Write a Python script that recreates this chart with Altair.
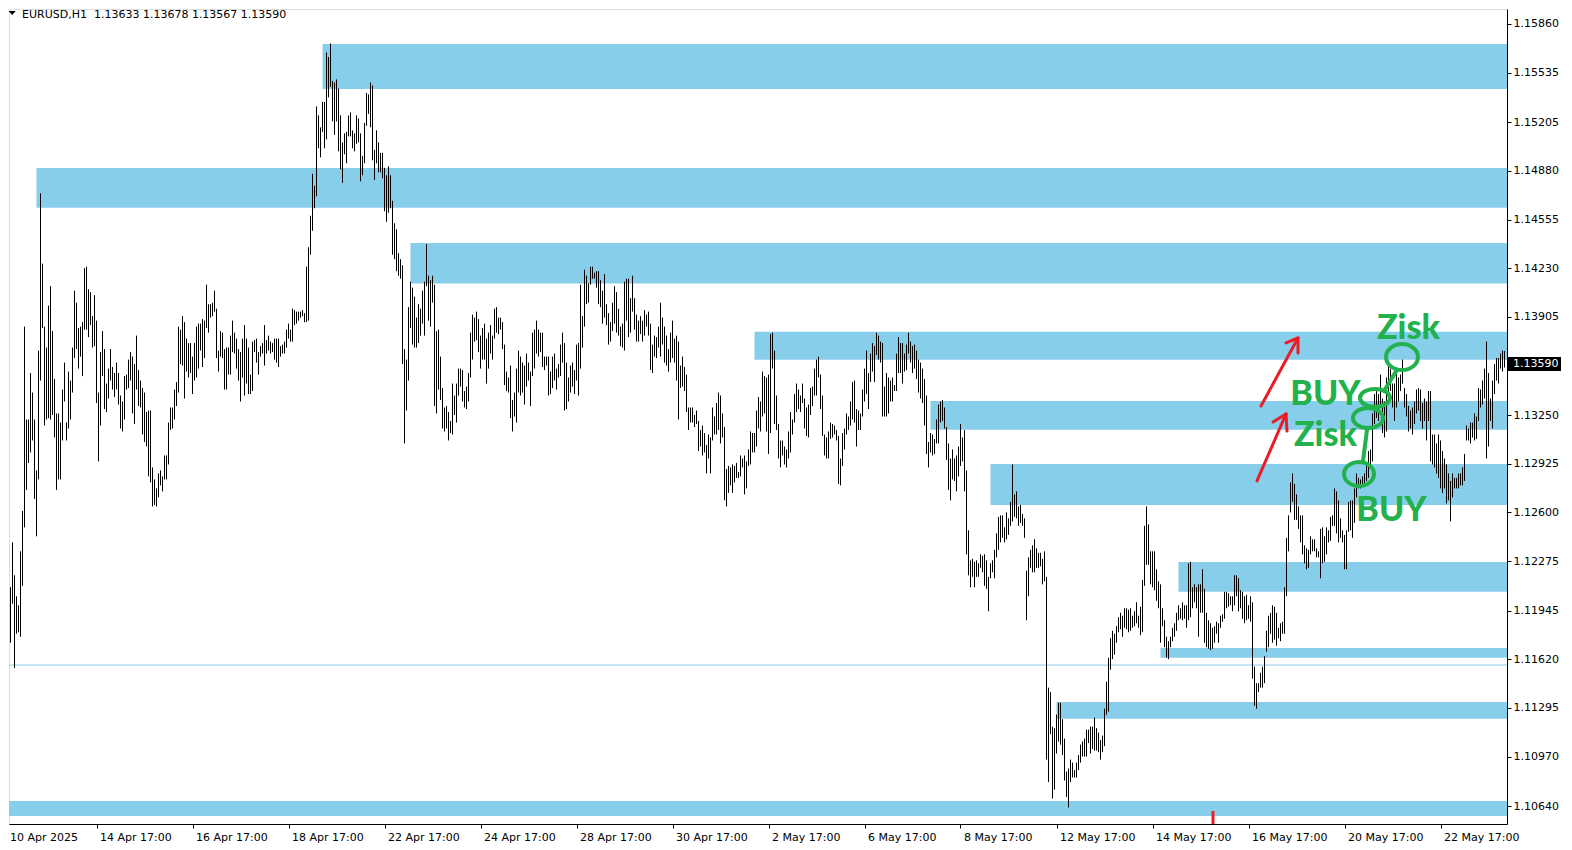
import altair as alt
import pandas as pd

# ---------------- data ----------------
# H1 bar highs / lows, quoted in pips above 1.10000 (e.g. 359 -> 1.1359)
HIGH_PIPS = [
    185, 228, 209, 210, 240, 218, 204, 198, 234, 261,
    384, 322, 322, 353, 340, 322, 288, 368, 473, 426,
    384, 370, 398, 411, 381, 349, 326, 326, 320, 342,
    360, 320, 354, 348, 370, 408, 400, 383, 384, 387,
    423, 424, 409, 407, 391, 405, 388, 340, 367, 381,
    369, 346, 356, 369, 357, 353, 360, 353, 338, 334,
    351, 352, 362, 367, 364, 359, 378, 355, 348, 343,
    340, 327, 328, 328, 290, 282, 276, 286, 288, 284,
    298, 298, 320, 330, 330, 342, 347, 384, 382, 391,
    387, 376, 373, 373, 364, 373, 384, 386, 386, 389,
    388, 412, 399, 399, 400, 408, 396, 368, 381, 380,
    369, 370, 370, 378, 388, 380, 376, 369, 367, 376,
    385, 376, 370, 352, 374, 375, 376, 367, 371, 373,
    385, 375, 378, 374, 373, 376, 376, 376, 371, 372,
    374, 382, 386, 382, 396, 395, 394, 394, 394, 395,
    393, 424, 437, 458, 486, 478, 531, 525, 517, 534,
    534, 567, 564, 573, 548, 547, 549, 543, 525, 507,
    513, 514, 525, 527, 515, 513, 525, 523, 513, 498,
    520, 540, 539, 547, 545, 502, 515, 507, 500, 500,
    490, 485, 491, 485, 468, 453, 449, 433, 429, 425,
    369, 362, 397, 414, 410, 404, 390, 399, 396, 408,
    414, 439, 418, 415, 418, 412, 381, 382, 364, 343,
    330, 331, 327, 321, 346, 338, 346, 356, 356, 355,
    341, 344, 353, 380, 392, 390, 394, 389, 378, 383,
    386, 376, 380, 385, 378, 396, 397, 390, 390, 387,
    372, 354, 350, 358, 335, 340, 356, 368, 364, 360,
    358, 366, 360, 354, 380, 382, 388, 382, 380, 380,
    364, 364, 364, 354, 364, 366, 356, 359, 372, 380,
    373, 360, 350, 358, 360, 355, 372, 373, 412, 391,
    422, 418, 413, 424, 424, 420, 421, 421, 415, 408,
    419, 399, 393, 387, 400, 411, 407, 396, 384, 386,
    414, 416, 416, 403, 418, 403, 392, 388, 391, 388,
    395, 392, 394, 386, 372, 378, 377, 384, 400, 390,
    384, 378, 369, 380, 388, 376, 378, 374, 358, 364,
    357, 352, 330, 330, 330, 325, 328, 321, 315, 318,
    313, 305, 312, 310, 330, 324, 333, 340, 338, 326,
    317, 289, 291, 290, 292, 291, 293, 287, 298, 296,
    298, 294, 302, 314, 313, 313, 328, 337, 334, 354,
    351, 350, 352, 379, 380, 368, 338, 319, 308, 308,
    304, 302, 314, 327, 322, 339, 346, 342, 338, 346,
    336, 330, 332, 343, 344, 356, 362, 364, 352, 338,
    312, 310, 314, 320, 319, 318, 315, 311, 296, 313,
    316, 326, 324, 334, 347, 348, 329, 328, 326, 342,
    356, 368, 353, 366, 373, 371, 380, 378, 374, 373,
    344, 353, 350, 348, 350, 345, 366, 377, 373, 373,
    366, 372, 380, 374, 371, 372, 368, 362, 360, 356,
    349, 338, 307, 313, 312, 309, 322, 332, 334, 335,
    330, 317, 306, 296, 302, 296, 298, 304, 319, 310,
    315, 288, 248, 228, 229, 227, 228, 226, 232, 231,
    232, 228, 217, 226, 228, 235, 246, 257, 258, 258,
    250, 260, 256, 267, 292, 272, 274, 264, 265, 259,
    256, 221, 230, 235, 238, 242, 236, 233, 233, 229,
    234, 217, 143, 140, 117, 116, 125, 133, 133, 122,
    109, 87, 89, 95, 93, 88, 93, 98, 105, 107,
    109, 115, 115, 117, 117, 123, 116, 113, 108, 111,
    129, 147, 163, 176, 181, 179, 184, 190, 193, 191,
    196, 196, 195, 196, 191, 194, 200, 191, 197, 215,
    251, 264, 252, 234, 234, 234, 222, 214, 212, 196,
    188, 177, 174, 177, 183, 186, 193, 198, 196, 200,
    198, 198, 226, 227, 210, 212, 210, 212, 212, 222,
    209, 193, 188, 186, 183, 184, 187, 186, 191, 192,
    207, 207, 206, 204, 204, 218, 218, 216, 208, 207,
    204, 205, 198, 204, 200, 157, 146, 146, 153, 157,
    164, 181, 191, 193, 198, 197, 193, 183, 186, 187,
    210, 243, 258, 280, 286, 279, 272, 264, 258, 258,
    238, 236, 235, 244, 242, 242, 236, 234, 249, 250,
    244, 250, 248, 257, 258, 276, 274, 268, 256, 248,
    245, 248, 267, 268, 268, 276, 286, 283, 282, 284,
    286, 292, 301, 302, 326, 339, 341, 339, 352, 336,
    334, 350, 361, 356, 346, 346, 353, 350, 352, 362,
    343, 339, 331, 328, 330, 334, 342, 343, 342, 333,
    336, 334, 341, 341, 312, 312, 306, 312, 308, 301,
    296, 292, 286, 281, 286, 283, 283, 286, 286, 290,
    299, 318, 316, 320, 320, 326, 324, 343, 342, 348,
    356, 374, 353, 336, 348, 359, 363, 363, 366, 368,
    368,
]
LOW_PIPS = [
    123, 152, 175, 173, 199, 156, 179, 180, 177, 211,
    250, 275, 293, 300, 308, 269, 244, 282, 348, 383,
    318, 322, 323, 322, 325, 310, 275, 282, 282, 308,
    334, 308, 316, 322, 340, 363, 369, 356, 364, 351,
    382, 382, 377, 385, 370, 371, 333, 294, 318, 351,
    329, 327, 336, 348, 342, 337, 342, 332, 316, 314,
    322, 342, 343, 348, 326, 319, 342, 331, 330, 312,
    307, 304, 284, 280, 264, 265, 264, 270, 278, 274,
    282, 282, 292, 315, 316, 322, 331, 340, 359, 358,
    336, 354, 350, 353, 339, 348, 350, 356, 368, 357,
    363, 383, 380, 390, 391, 394, 363, 354, 364, 363,
    342, 342, 352, 352, 367, 366, 356, 348, 334, 350,
    338, 346, 339, 339, 341, 367, 360, 352, 364, 366,
    358, 366, 368, 366, 367, 362, 360, 357, 364, 366,
    366, 370, 376, 374, 374, 385, 386, 388, 390, 391,
    387, 387, 388, 432, 448, 463, 471, 503, 497, 514,
    503, 509, 537, 544, 521, 512, 521, 501, 489, 480,
    499, 493, 511, 511, 503, 501, 506, 507, 481, 485,
    493, 518, 526, 517, 495, 482, 493, 487, 487, 483,
    461, 454, 460, 463, 432, 429, 421, 418, 416, 359,
    306, 328, 348, 383, 372, 370, 370, 373, 378, 386,
    378, 411, 388, 384, 400, 331, 326, 342, 335, 316,
    314, 316, 308, 313, 312, 325, 320, 338, 344, 334,
    330, 329, 334, 350, 362, 374, 375, 367, 356, 362,
    362, 346, 356, 366, 362, 376, 380, 379, 382, 369,
    345, 341, 340, 323, 314, 324, 320, 340, 338, 340,
    332, 344, 348, 331, 351, 356, 366, 364, 367, 357,
    355, 358, 338, 339, 343, 348, 342, 350, 351, 360,
    328, 329, 334, 340, 344, 339, 348, 338, 356, 370,
    384, 399, 400, 412, 416, 416, 410, 399, 397, 386,
    390, 385, 372, 374, 381, 386, 380, 378, 371, 370,
    368, 388, 377, 380, 394, 382, 374, 374, 379, 374,
    378, 384, 378, 355, 353, 364, 363, 370, 364, 372,
    360, 358, 354, 360, 363, 360, 348, 322, 343, 344,
    341, 327, 315, 320, 320, 317, 319, 301, 304, 298,
    300, 286, 296, 286, 308, 312, 312, 315, 306, 310,
    268, 264, 273, 278, 273, 280, 283, 283, 284, 290,
    272, 276, 291, 292, 300, 300, 304, 316, 314, 324,
    326, 314, 299, 313, 356, 319, 315, 296, 290, 298,
    292, 290, 296, 300, 312, 320, 327, 329, 327, 333,
    316, 311, 310, 325, 331, 338, 338, 350, 329, 311,
    298, 296, 296, 309, 310, 312, 308, 279, 278, 291,
    302, 312, 315, 318, 322, 320, 304, 315, 315, 324,
    334, 339, 329, 347, 354, 347, 365, 362, 360, 324,
    324, 324, 326, 334, 334, 341, 341, 353, 353, 346,
    354, 355, 366, 360, 353, 356, 349, 340, 336, 333,
    318, 299, 290, 300, 298, 299, 306, 306, 320, 321,
    316, 295, 275, 268, 282, 281, 274, 284, 291, 294,
    274, 232, 218, 210, 217, 210, 217, 217, 223, 220,
    211, 209, 194, 216, 220, 216, 230, 235, 240, 243,
    240, 242, 245, 251, 254, 257, 256, 251, 253, 251,
    243, 188, 204, 223, 220, 220, 223, 223, 224, 212,
    214, 95, 80, 112, 69, 75, 99, 107, 105, 98,
    81, 70, 63, 80, 83, 83, 83, 88, 93, 97,
    97, 97, 106, 99, 102, 101, 101, 100, 95, 100,
    104, 125, 127, 155, 162, 165, 173, 180, 182, 177,
    183, 182, 180, 181, 183, 184, 186, 183, 178, 180,
    211, 225, 225, 212, 210, 208, 201, 196, 173, 184,
    170, 163, 162, 170, 174, 177, 181, 188, 189, 188,
    189, 183, 188, 190, 196, 200, 196, 177, 193, 193,
    173, 170, 169, 168, 169, 173, 179, 173, 183, 187,
    189, 196, 197, 198, 194, 198, 204, 194, 196, 189,
    186, 188, 189, 187, 149, 131, 129, 140, 143, 143,
    146, 167, 170, 179, 173, 175, 171, 176, 174, 179,
    179, 204, 234, 260, 267, 255, 255, 249, 240, 232,
    226, 222, 223, 232, 234, 234, 230, 230, 216, 226,
    227, 232, 240, 241, 251, 251, 246, 240, 243, 240,
    222, 222, 247, 248, 243, 253, 270, 276, 276, 278,
    279, 281, 283, 292, 294, 319, 323, 321, 332, 313,
    310, 314, 332, 341, 330, 321, 330, 334, 341, 346,
    330, 324, 314, 316, 312, 319, 326, 328, 321, 316,
    321, 308, 321, 294, 292, 290, 286, 283, 276, 273,
    276, 266, 268, 254, 270, 276, 276, 276, 278, 278,
    281, 308, 308, 306, 310, 308, 309, 321, 330, 332,
    336, 296, 304, 321, 316, 339, 348, 346, 356, 354,
    357,
]
# last (current) bar quoted in the header: open, high, low, close
LAST_OHLC = [1.13633, 1.13678, 1.13567, 1.13590]

# support / resistance zones (drawn rectangles): start bar, top and bottom price
ZONE_START = [159, 16, 203, 375, 463, 493, 587, 578, 526, 0]
ZONE_TOP = [1.15727, 1.14899, 1.14398, 1.13806, 1.13344, 1.12923, 1.12269, 1.11695, 1.11334, 1.10674]
ZONE_BOTTOM = [1.15426, 1.14634, 1.14127, 1.13619, 1.13152, 1.12650, 1.12071, 1.11630, 1.11223, 1.10573]
LEVEL_LINE = 1.11581

Y_TICKS = [1.15860, 1.15535, 1.15205, 1.14880, 1.14555, 1.14230, 1.13905, 1.13250,
           1.12925, 1.12600, 1.12275, 1.11945, 1.11620, 1.11295, 1.10970, 1.10640]
X_TICKS = [46, 94, 142, 190, 238, 286, 334, 382, 430, 478, 526, 574, 622, 670, 718]
X_LABELS = ["14 Apr 17:00", "16 Apr 17:00", "18 Apr 17:00", "22 Apr 17:00", "24 Apr 17:00",
            "28 Apr 17:00", "30 Apr 17:00", "2 May 17:00", "6 May 17:00", "8 May 17:00",
            "12 May 17:00", "14 May 17:00", "16 May 17:00", "20 May 17:00", "22 May 17:00"]
FIRST_LABEL = "10 Apr 2025"

# hand-drawn annotations (bar index, price)
RED_SEGMENTS = [  # x, y, x2, y2
    (628.25, 1.13310, 646.75, 1.13764),
    (646.75, 1.13764, 640.75, 1.13731),
    (646.75, 1.13764, 646.75, 1.13664),
    (626.25, 1.12810, 640.75, 1.13257),
    (640.75, 1.13257, 634.25, 1.13203),
    (640.75, 1.13257, 641.25, 1.13143),
]
GREEN_SEGMENTS = [
    (679.25, 1.12943, 681.25, 1.13150),
    (689.75, 1.13410, 696.25, 1.13551),
]
GREEN_ELLIPSES = [  # x, y, ry/rx, width px
    (698.75, 1.13637, 0.81, 32),
    (685.25, 1.13364, 0.60, 30),
    (681.75, 1.13230, 0.67, 30),
    (677.25, 1.12856, 0.80, 30),
]
GREEN_TEXT = [  # x, baseline price, text
    (702.0, 1.13757, "Zisk"),
    (660.5, 1.13317, "BUY"),
    (660.5, 1.13043, "Zisk"),
    (693.5, 1.12543, "BUY"),
]
RED_MARK = (604.25, 1.10607)

# ---------------- frames ----------------
high = [round(1.1 + p / 10000, 5) for p in HIGH_PIPS]
low = [round(1.1 + p / 10000, 5) for p in LOW_PIPS]
high[-1] = LAST_OHLC[1]
low[-1] = LAST_OHLC[2]
n = min(len(high), len(low))
bars_df = pd.DataFrame({"x": list(range(n)), "y": low[:n], "y2": high[:n]})

zones_df = pd.DataFrame({"x": ZONE_START, "x2": [760] * len(ZONE_START),
                         "y": ZONE_BOTTOM, "y2": ZONE_TOP})
level_df = pd.DataFrame({"x": [0], "x2": [760], "y": [LEVEL_LINE]})
red_df = pd.DataFrame(RED_SEGMENTS, columns=["x", "y", "x2", "y2"])
green_df = pd.DataFrame(GREEN_SEGMENTS, columns=["x", "y", "x2", "y2"])
ell_df = pd.DataFrame({
    "x": [e[0] for e in GREEN_ELLIPSES],
    "y": [e[1] for e in GREEN_ELLIPSES],
    "shape": [f"M-1,0 A1,{e[2]} 0 1,1 1,0 A1,{e[2]} 0 1,1 -1,0 Z" for e in GREEN_ELLIPSES],
    "size": [e[3] ** 2 for e in GREEN_ELLIPSES],
})
gtext_df = pd.DataFrame(GREEN_TEXT, columns=["x", "y", "t"])
mark_df = pd.DataFrame({"x": [RED_MARK[0]], "y": [RED_MARK[1]], "y2": [1.1052]})
price_df = pd.DataFrame({"y": [LAST_OHLC[3] - 0.00047], "y2": [LAST_OHLC[3] + 0.00047],
                         "p": [LAST_OHLC[3]], "t": [f"{LAST_OHLC[3]:.5f}"]})
header_df = pd.DataFrame({"t": ["EURUSD,H1\u00a0\u00a01.13633 1.13678 1.13567 1.13590"]})
first_df = pd.DataFrame({"t": [FIRST_LABEL]})

W, H = 1498, 815
X_DOMAIN = [2.25, 751.25]
Y_DOMAIN = [1.10520, 1.159601]
xs = alt.Scale(domain=X_DOMAIN, nice=False, zero=False)
ys = alt.Scale(domain=Y_DOMAIN, nice=False, zero=False)
FONT = "DejaVu Sans"
SKY = "#87CEEB"
GREEN = "#22B14C"
RED = "#ED1C24"

tick_list = ",".join(str(v) for v in X_TICKS)
label_list = ",".join(f"'{l}'" for l in X_LABELS)
x_axis = alt.Axis(values=X_TICKS, title=None, grid=False, orient="bottom",
                  labelExpr=f"[{label_list}][indexof([{tick_list}], datum.value)]",
                  labelAlign="left", labelOffset=3, labelFont=FONT, labelFontSize=11,
                  labelColor="black", labelPadding=3, tickSize=4, tickColor="black",
                  domainColor="black", labelOverlap=False, labelFlush=False, labelBound=False)
y_axis = alt.Axis(values=Y_TICKS, title=None, grid=False, orient="right", format=".5f",
                  labelAlign="left", labelBaseline="middle", labelFont=FONT, labelFontSize=11,
                  labelColor="black", labelPadding=2, tickSize=4, tickColor="black",
                  domainColor="black", labelOverlap=False, labelFlush=False, labelBound=False)


def X(f="x"):
    return alt.X(f"{f}:Q", scale=xs)


def Y(f="y"):
    return alt.Y(f"{f}:Q", scale=ys)


zones = alt.Chart(zones_df).mark_rect(color=SKY, clip=True).encode(
    x=alt.X("x:Q", scale=xs, axis=x_axis), x2="x2:Q",
    y=alt.Y("y:Q", scale=ys, axis=y_axis), y2="y2:Q")

level = alt.Chart(level_df).mark_rule(color=SKY, strokeWidth=1, clip=True).encode(
    x=X(), x2="x2:Q", y=Y())

bars = alt.Chart(bars_df).mark_rule(color="black", strokeWidth=1, clip=True).encode(
    x=X(), y=Y(), y2="y2:Q")

red = alt.Chart(red_df).mark_rule(color=RED, strokeWidth=3, strokeCap="round").encode(
    x=X(), y=Y(), x2="x2:Q", y2="y2:Q")

green_lines = alt.Chart(green_df).mark_rule(color=GREEN, strokeWidth=4, strokeCap="round").encode(
    x=X(), y=Y(), x2="x2:Q", y2="y2:Q")

ellipses = alt.Chart(ell_df).mark_point(filled=False, color=GREEN, strokeWidth=4, opacity=1).encode(
    x=X(), y=Y(), shape=alt.Shape("shape:N", scale=None, legend=None),
    size=alt.Size("size:Q", scale=None, legend=None))

gtext = alt.Chart(gtext_df).mark_text(
    font="Lato", fontSize=34, fontWeight=900, color=GREEN, align="center",
    baseline="alphabetic").encode(x=X(), y=Y(), text="t:N")

red_mark = alt.Chart(mark_df).mark_rule(color=RED, strokeWidth=3).encode(
    x=X(), y=Y(), y2="y2:Q")

price_box = alt.Chart(price_df).mark_rect(color="black", clip=False).encode(
    x=alt.value(W + 1), x2=alt.value(W + 54), y=Y(), y2="y2:Q")
price_txt = alt.Chart(price_df).mark_text(
    font=FONT, fontSize=11, color="white", align="left", baseline="middle").encode(
    x=alt.value(W + 6), y=Y("p"), text="t:N")

header = alt.Chart(header_df).mark_text(
    font=FONT, fontSize=11, color="black", align="left", baseline="alphabetic").encode(
    x=alt.value(13), y=alt.value(8.6), text="t:N")
tri = alt.Chart(header_df).mark_point(
    shape="M-1,-0.6 L1,-0.6 L0,0.6 Z", filled=True, color="black", size=49, opacity=1).encode(
    x=alt.value(3.2), y=alt.value(4.0))
first_lbl = alt.Chart(first_df).mark_text(
    font=FONT, fontSize=11, color="black", align="left", baseline="top").encode(
    x=alt.value(1), y=alt.value(H + 7.5), text="t:N")

chart = alt.layer(
    zones, level, bars, red, green_lines, ellipses, gtext, red_mark,
    price_box, price_txt, header, tri, first_lbl
).properties(
    width=W, height=H, padding={"left": 0, "top": 0, "right": 0, "bottom": 0}
).configure_view(
    stroke="black", strokeWidth=1
).configure(background="white")

chart.save("out.html", embed_options={"renderer": "svg", "actions": False})
